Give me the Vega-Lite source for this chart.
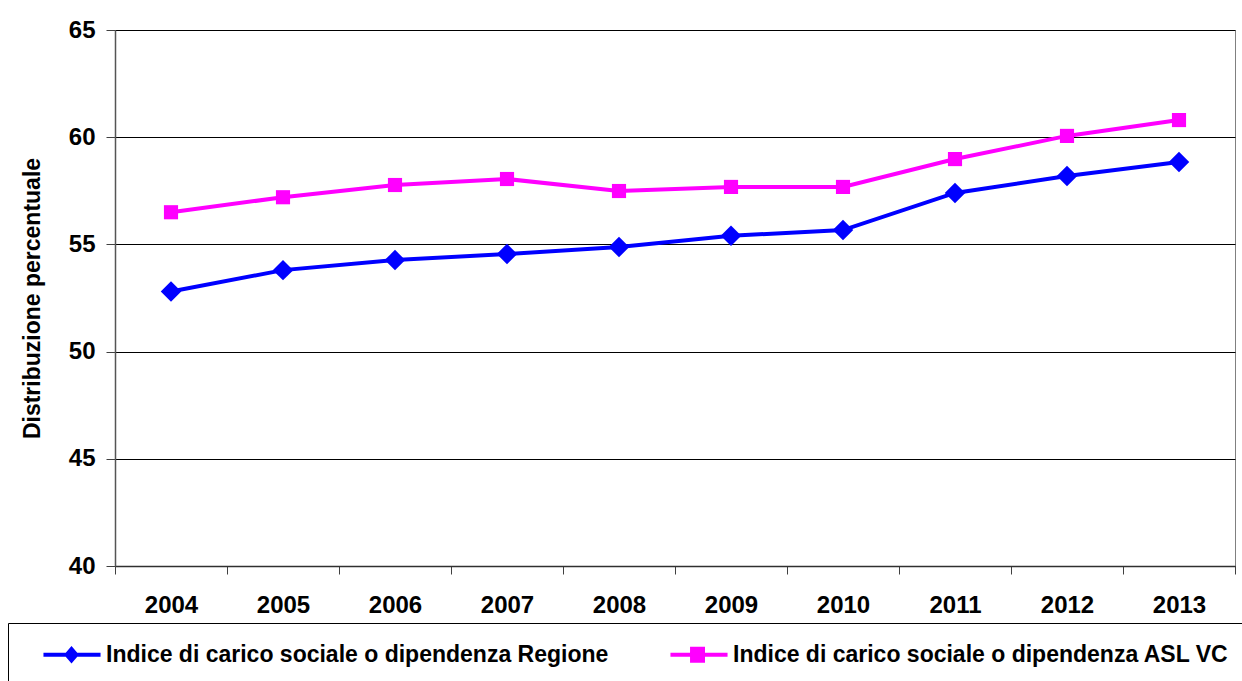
{
  "$schema": "https://vega.github.io/schema/vega-lite/v6.json",
  "autosize": "none",
  "width": 1120,
  "height": 536,
  "padding": {"left": 115, "top": 30, "right": 7, "bottom": 115},
  "background": "white",
  "config": {
    "font": "Liberation Sans",
    "view": {"stroke": "#808080", "strokeWidth": 1}
  },
  "data": {
    "values": [
      {"anno": "2004", "serie": "Indice di carico sociale o dipendenza Regione", "valore": 52.8},
      {"anno": "2005", "serie": "Indice di carico sociale o dipendenza Regione", "valore": 53.8},
      {"anno": "2006", "serie": "Indice di carico sociale o dipendenza Regione", "valore": 54.27},
      {"anno": "2007", "serie": "Indice di carico sociale o dipendenza Regione", "valore": 54.55},
      {"anno": "2008", "serie": "Indice di carico sociale o dipendenza Regione", "valore": 54.88},
      {"anno": "2009", "serie": "Indice di carico sociale o dipendenza Regione", "valore": 55.4},
      {"anno": "2010", "serie": "Indice di carico sociale o dipendenza Regione", "valore": 55.67},
      {"anno": "2011", "serie": "Indice di carico sociale o dipendenza Regione", "valore": 57.4},
      {"anno": "2012", "serie": "Indice di carico sociale o dipendenza Regione", "valore": 58.19},
      {"anno": "2013", "serie": "Indice di carico sociale o dipendenza Regione", "valore": 58.84},
      {"anno": "2004", "serie": "Indice di carico sociale o dipendenza ASL VC", "valore": 56.5},
      {"anno": "2005", "serie": "Indice di carico sociale o dipendenza ASL VC", "valore": 57.2},
      {"anno": "2006", "serie": "Indice di carico sociale o dipendenza ASL VC", "valore": 57.77},
      {"anno": "2007", "serie": "Indice di carico sociale o dipendenza ASL VC", "valore": 58.05},
      {"anno": "2008", "serie": "Indice di carico sociale o dipendenza ASL VC", "valore": 57.49},
      {"anno": "2009", "serie": "Indice di carico sociale o dipendenza ASL VC", "valore": 57.68},
      {"anno": "2010", "serie": "Indice di carico sociale o dipendenza ASL VC", "valore": 57.68},
      {"anno": "2011", "serie": "Indice di carico sociale o dipendenza ASL VC", "valore": 58.98},
      {"anno": "2012", "serie": "Indice di carico sociale o dipendenza ASL VC", "valore": 60.06},
      {"anno": "2013", "serie": "Indice di carico sociale o dipendenza ASL VC", "valore": 60.8}
    ]
  },
  "encoding": {
    "x": {
      "field": "anno",
      "type": "ordinal",
      "scale": {"type": "band", "paddingInner": 0, "paddingOuter": 0},
      "axis": {
        "title": null,
        "labelAngle": 0,
        "tickBand": "extent",
        "tickSize": 8,
        "tickColor": "#404040",
        "domainColor": "#303030",
        "domainWidth": 1.5,
        "labelPadding": 19,
        "labelFont": "Liberation Sans",
        "labelFontSize": 24,
        "labelFontWeight": "bold",
        "labelColor": "black",
        "grid": false
      }
    },
    "y": {
      "field": "valore",
      "type": "quantitative",
      "scale": {"domain": [40, 65], "nice": false, "zero": false},
      "axis": {
        "title": "Distribuzione percentuale",
        "titleFont": "Liberation Sans",
        "titleFontSize": 23,
        "titleFontWeight": "bold",
        "titleColor": "black",
        "titlePadding": 24,
        "values": [40, 45, 50, 55, 60, 65],
        "tickSize": 9,
        "tickColor": "#404040",
        "domainColor": "#555555",
        "domainWidth": 1.5,
        "labelPadding": 11,
        "labelFont": "Liberation Sans",
        "labelFontSize": 24,
        "labelFontWeight": "bold",
        "labelColor": "black",
        "grid": true,
        "gridColor": "#000000",
        "gridWidth": 1,
        "gridOpacity": 1
      }
    },
    "color": {
      "field": "serie",
      "type": "nominal",
      "scale": {
        "domain": ["Indice di carico sociale o dipendenza Regione", "Indice di carico sociale o dipendenza ASL VC"],
        "range": ["#0000FF", "#FF00FF"]
      },
      "legend": {
        "title": null,
        "orient": "none",
        "direction": "horizontal",
        "legendX": -107,
        "legendY": 593,
        "padding": 20,
        "strokeColor": "black",
        "symbolSize": 484,
        "symbolStrokeWidth": 0,
        "symbolOpacity": 1,
        "labelOffset": 55,
        "columnPadding": 46,
        "labelFont": "Liberation Sans",
        "labelFontSize": 23,
        "labelFontWeight": "bold",
        "labelColor": "black",
        "labelLimit": 0,
        "encode": {
          "symbols": {
            "update": {
              "shape": {"signal": "datum.index === 0 ? 'M0.36,-0.18H5.55V0.18H0.36Z M2.91,-0.79L3.59,0L2.91,0.79L2.23,0Z' : 'M0.36,-0.18H5.55V0.18H0.36Z M2.14,-0.73H3.5V0.73H2.14Z'"},
              "fill": {"signal": "datum.index === 0 ? '#0000FF' : '#FF00FF'"},
              "size": {"value": 484},
              "strokeWidth": {"value": 0}
            }
          }
        }
      }
    }
  },
  "layer": [
    {"mark": {"type": "line", "strokeWidth": 4}},
    {
      "mark": {"type": "point", "filled": true, "opacity": 1},
      "encoding": {
        "shape": {
          "condition": {"test": "datum.serie === 'Indice di carico sociale o dipendenza Regione'", "value": "diamond"},
          "value": "square"
        },
        "size": {
          "condition": {"test": "datum.serie === 'Indice di carico sociale o dipendenza Regione'", "value": 420},
          "value": 200
        }
      }
    }
  ]
}
